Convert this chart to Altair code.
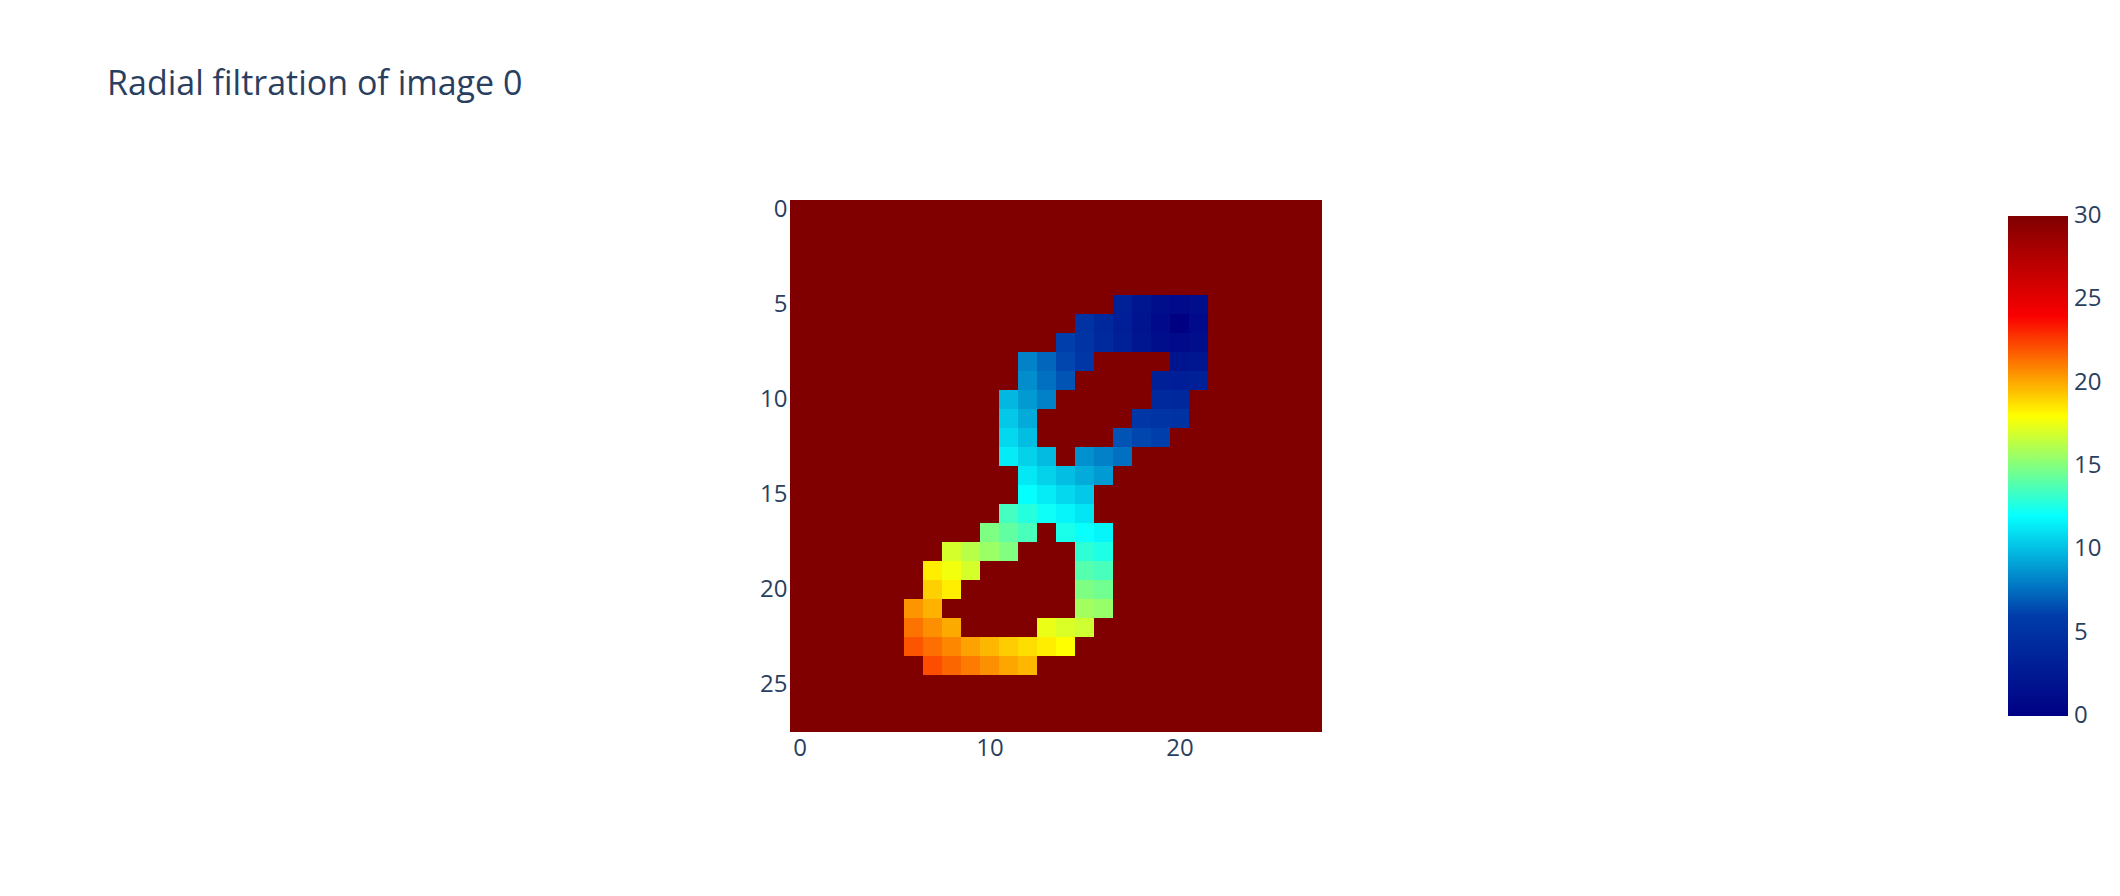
import pandas as pd
import altair as alt

# Image size and background (filtration value of empty pixels)
N = 28
BG = 30.0

# Foreground pixels of the radial filtration, per row: (first column, values)
row_05 = [(17, [3.2, 2.2, 1.4, 1.0, 1.4])]
row_06 = [(15, [5.0, 4.0, 3.0, 2.0, 1.0, 0.0, 1.0])]
row_07 = [(14, [6.1, 5.1, 4.1, 3.2, 2.2, 1.4, 1.0, 1.4])]
row_08 = [(12, [8.2, 7.3, 6.3, 5.4]), (20, [2.0, 2.2])]
row_09 = [(12, [8.5, 7.6, 6.7]), (19, [3.2, 3.0, 3.2])]
row_10 = [(11, [9.8, 8.9, 8.1]), (19, [4.1, 4.0])]
row_11 = [(11, [10.3, 9.4]), (18, [5.4, 5.1, 5.0])]
row_12 = [(11, [10.8, 10.0]), (17, [6.7, 6.3, 6.1])]
row_13 = [(11, [11.4, 10.6, 9.9]), (15, [8.6, 8.1, 7.6])]
row_14 = [(12, [11.3, 10.6, 10.0, 9.4, 8.9])]
row_15 = [(12, [12.0, 11.4, 10.8, 10.3])]
row_16 = [(11, [13.5, 12.8, 12.2, 11.7, 11.2])]
row_17 = [(10, [14.9, 14.2, 13.6]), (14, [12.5, 12.1, 11.7])]
row_18 = [(8, [17.0, 16.3, 15.6, 15.0]), (15, [13.0, 12.6])]
row_19 = [(7, [18.4, 17.7, 17.0]), (15, [13.9, 13.6])]
row_20 = [(7, [19.1, 18.4]), (15, [14.9, 14.6])]
row_21 = [(6, [20.5, 19.8]), (15, [15.8, 15.5])]
row_22 = [(6, [21.3, 20.6, 20.0]), (13, [17.5, 17.1, 16.8])]
row_23 = [(6, [22.0, 21.4, 20.8, 20.2, 19.7, 19.2, 18.8, 18.4, 18.0])]
row_24 = [(7, [22.2, 21.6, 21.1, 20.6, 20.1, 19.7])]

rows = {
    5: row_05, 6: row_06, 7: row_07, 8: row_08, 9: row_09, 10: row_10,
    11: row_11, 12: row_12, 13: row_13, 14: row_14, 15: row_15, 16: row_16,
    17: row_17, 18: row_18, 19: row_19, 20: row_20, 21: row_21, 22: row_22,
    23: row_23, 24: row_24,
}

# Jet colour scale (plotly), evenly spaced over 0..30
# (ends nudged a hair outward so the colourbar labels 0 and 30 stay centred)
jet_stops = [-0.01, 6, 12, 18, 24, 30.01]
jet_colors = ['rgb(0,0,131)', 'rgb(0,60,170)', 'rgb(5,255,255)',
              'rgb(255,255,0)', 'rgb(250,0,0)', 'rgb(128,0,0)']

x_ticks = [0, 10, 20]
y_ticks = [0, 5, 10, 15, 20, 25]
cbar_ticks = [0, 5, 10, 15, 20, 25, 30]

# Build the full pixel grid
grid = {(r, c): BG for r in range(N) for c in range(N)}
for r, segs in rows.items():
    for c0, vals in segs:
        for i, v in enumerate(vals):
            grid[(r, c0 + i)] = v

df = pd.DataFrame([{'row': r, 'col': c, 'value': v} for (r, c), v in grid.items()])

FONT = 'Open Sans'
INK = '#2a3f5f'
SIDE = 532  # 19 px per pixel-cell keeps cell edges on whole pixels

heat = (
    alt.Chart(df)
    .transform_calculate(x0='datum.col - 0.5', x1='datum.col + 0.5',
                         y0='datum.row - 0.5', y1='datum.row + 0.5')
    .mark_rect()
    .encode(
        x=alt.X('x0:Q', scale=alt.Scale(domain=[-0.5, N - 0.5], nice=False, zero=False),
                axis=alt.Axis(values=x_ticks, title=None, grid=False, domain=False,
                              ticks=False, labelPadding=4, labelAngle=0,
                              labelFontSize=24, labelFont=FONT, labelColor=INK)),
        x2='x1:Q',
        y=alt.Y('y0:Q', scale=alt.Scale(domain=[-0.5, N - 0.5], nice=False,
                                        zero=False, reverse=True),
                axis=alt.Axis(values=y_ticks, title=None, grid=False, domain=False,
                              ticks=False, labelPadding=3,
                              labelFontSize=24, labelFont=FONT, labelColor=INK)),
        y2='y1:Q',
        color=alt.Color('value:Q', title=None,
                        scale=alt.Scale(domain=jet_stops, range=jet_colors, interpolate='rgb'),
                        legend=alt.Legend(type='gradient', orient='none',
                                          legendX=1218, legendY=16,
                                          direction='vertical',
                                          gradientLength=500, gradientThickness=60,
                                          gradientStrokeWidth=0, values=cbar_ticks,
                                          labelFontSize=24, labelFont=FONT,
                                          labelColor=INK, labelOffset=6,
                                          labelOverlap=False, padding=0)),
    )
)

chart = (
    heat
    .properties(
        width=SIDE, height=SIDE,
        autosize=alt.AutoSizeParams(type='none'),
        padding={'left': 782, 'top': 192, 'right': 790, 'bottom': 140},
        title=alt.Title('Radial filtration of image 0', anchor='start', frame='group',
                        font=FONT, fontSize=34, fontWeight='normal', color=INK,
                        baseline='alphabetic', offset=0, dx=-683, dy=-69),
    )
    .configure_view(strokeWidth=0)
)

chart.save('out.html', embed_options={'renderer': 'svg', 'actions': False})
